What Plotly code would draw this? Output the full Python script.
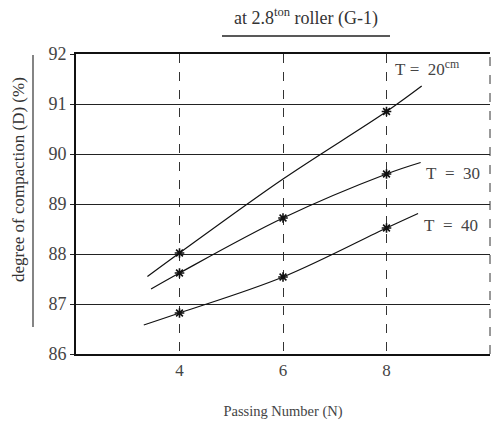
import plotly.graph_objects as go

# Curve data
t20_x = [3.38, 4, 6, 8, 8.68]
t20_y = [87.55, 88.02, 89.5, 90.85, 91.36]
t30_x = [3.45, 4, 6, 8, 8.66]
t30_y = [87.3, 87.62, 88.72, 89.6, 89.83]
t40_x = [3.31, 4, 6, 8, 8.61]
t40_y = [86.58, 86.82, 87.54, 88.52, 88.81]

# Measured points
p20_x = [4, 8]
p20_y = [88.02, 90.85]
p30_x = [4, 6, 8]
p30_y = [87.62, 88.72, 89.6]
p40_x = [4, 6, 8]
p40_y = [86.82, 87.54, 88.52]

x_ticks = [4, 6, 8]
y_ticks = [86, 87, 88, 89, 90, 91, 92]

FONT = "Liberation Serif, Times New Roman, serif"
INK = "#222"
NB = "\u00a0"

fig = go.Figure()
for xs, ys in [(t20_x, t20_y), (t30_x, t30_y), (t40_x, t40_y)]:
    fig.add_trace(go.Scatter(x=xs, y=ys, mode="lines",
                             line=dict(color="#111", width=1.2, shape="spline"),
                             hoverinfo="skip", showlegend=False))
for xs, ys in [(p20_x, p20_y), (p30_x, p30_y), (p40_x, p40_y)]:
    fig.add_trace(go.Scatter(x=xs, y=ys, mode="markers",
                             marker=dict(symbol="asterisk-open", size=8, color="#111",
                                         line=dict(color="#111", width=1.6)),
                             showlegend=False))

labels = [(8.13, 91.72, f"T{NB}={NB}{NB}20<sup>cm</sup>"),
          (8.72, 89.62, f"T{NB}{NB}={NB}{NB}30"),
          (8.69, 88.58, f"T{NB}{NB}={NB}{NB}40")]
for x, y, t in labels:
    fig.add_annotation(x=x, y=y, text=t, showarrow=False, xanchor="left",
                       font=dict(family=FONT, size=17, color="#444"))

fig.update_layout(
    width=491, height=423,
    margin=dict(l=76, r=1, t=54, b=69),
    paper_bgcolor="white", plot_bgcolor="white",
    font=dict(family=FONT, color=INK, size=16),
    xaxis=dict(range=[2, 10], tickvals=x_ticks, ticktext=[str(v) for v in x_ticks],
               showgrid=True, gridcolor="#333", gridwidth=1, griddash="dash",
               showline=True, linecolor="#111", linewidth=2, mirror=True,
               ticks="", zeroline=False, tickfont=dict(family=FONT, size=17, color="#444"),
               title=dict(text="Passing Number (N)", font=dict(family=FONT, size=14.5, color="#444"), standoff=26)),
    yaxis=dict(range=[86, 92], tickvals=y_ticks, ticktext=[str(v) for v in y_ticks],
               showgrid=True, gridcolor="#222", gridwidth=1.3,
               showline=True, linecolor="#111", linewidth=2,
               ticks="outside", ticklen=4, tickcolor="#222", zeroline=False,
               tickfont=dict(family=FONT, size=18, color="#444")),
    showlegend=False,
)

# plot area in pixels: x 76..490 (414 wide), y 54..354 (300 high)
def px(x):
    return (x - 76) / 414

def py(y):
    return (354 - y) / 300

# Title with underline
fig.add_annotation(x=px(306), y=py(31), xref="paper", yref="paper",
                   xanchor="center", yanchor="bottom",
                   text="at 2.8<sup>ton</sup> roller (G-1)", showarrow=False,
                   font=dict(family=FONT, size=18, color="#333"))
fig.add_shape(type="line", xref="paper", yref="paper",
              x0=px(222), x1=px(390), y0=py(36), y1=py(36),
              line=dict(color="#222", width=1.5))
# Y title and its underline
fig.add_annotation(x=px(18), y=py(180), xref="paper", yref="paper", textangle=-90,
                   xanchor="center", yanchor="middle",
                   text="degree of compaction (D) (%)", showarrow=False,
                   font=dict(family=FONT, size=17, color="#333"))
fig.add_shape(type="line", xref="paper", yref="paper",
              x0=px(33), x1=px(33), y0=py(55), y1=py(327),
              line=dict(color="#333", width=1.2))
# Right dashed border
fig.add_shape(type="line", xref="x domain", yref="y domain",
              x0=1, x1=1, y0=0, y1=1,
              line=dict(color="#333", width=1, dash="dash"))

fig.write_html("out.html", config={"displayModeBar": False},
               post_script="document.body.style.margin='0';")
